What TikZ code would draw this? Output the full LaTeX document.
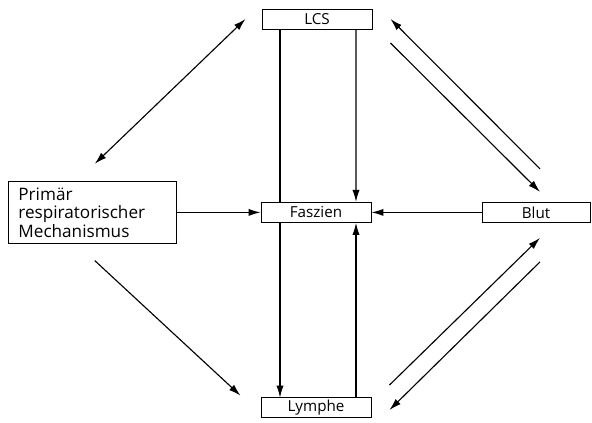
\documentclass[tikz,border=0pt]{standalone}
\usepackage{fontspec}
\setmainfont{Open Sans}
\usetikzlibrary{arrows.meta,positioning,calc}
\tikzstyle{bS}=[draw,fill=white,minimum width=2.75cm,minimum height=0.5cm,inner sep=0pt,line width=0.7pt,font=\fontsize{10.8}{12}\selectfont]
\tikzstyle{mS}=[draw,fill=white,text width=3.7cm,minimum height=1.55cm,inner xsep=0.25cm,inner ysep=0pt,align=left,line width=0.6pt,font=\fontsize{12.2}{13.2}\selectfont]
\tikzstyle{eA}=[line width=0.8pt,-{Latex[length=3mm,width=1.8mm]}]
\tikzstyle{eAA}=[line width=0.8pt,{Latex[length=3mm,width=1.8mm]}-{Latex[length=3mm,width=1.8mm]}]

\begin{document}
\begin{tikzpicture}[scale=1]%[x=1 cm, y=1 cm]
                \useasboundingbox (0,0) rectangle (14.8,10.55);
                % vertical line behind the middle box
                \draw[eA] ([xshift=-0.925cm]7.925,9.8) -- ([xshift=-0.925cm]7.925,0.61);
                \draw (7.925,10.075) node[bS] (nLCS) {LCS};
                \draw (7.9,5.24) node[bS] (nFas) {Faszien};
                \draw (7.9,0.36) node[bS] (nLym) {Lymphe};
                \draw (13.4,5.24) node[bS,minimum width=2.7cm] (nBlut) {Blut};
                \draw (2.31,5.24) node[mS] (nPRM) {Primär\\respiratorischer\\Mechanismus};
                \path
                    ([xshift=0.975cm]nLCS.south) edge[eA] ([xshift=1cm]nFas.north)
                    ([xshift=1cm]nLym.north) edge[eA] ([xshift=1cm]nFas.south)
                    (nPRM.east) edge[eA] (nFas.west)
                    (nBlut.west) edge[eA] (nFas.east)
                    ([xshift=-0.4cm]nLCS.west) edge[eAA] ([xshift=0.06cm,yshift=0.43cm]nPRM.north)
                    ([xshift=0.06cm,yshift=-0.42cm]nPRM.south) edge[eA] ([xshift=-0.5cm,yshift=0.3cm]nLym.west)
                    ([xshift=0.1cm,yshift=0.825cm]nBlut.north) edge[eA] ([xshift=0.45cm]nLCS.east)
                    ([xshift=0.45cm,yshift=-0.6cm]nLCS.east) edge[eA] ([xshift=0.1cm,yshift=0.25cm]nBlut.north)
                    ([xshift=0.45cm,yshift=0.565cm]nLym.east) edge[eA] ([xshift=0.1cm,yshift=-0.375cm]nBlut.south)
                    ([xshift=0.1cm,yshift=-0.975cm]nBlut.south) edge[eA] ([xshift=0.45cm,yshift=-0.06cm]nLym.east)
                ;
        \end{tikzpicture}
\end{document}
